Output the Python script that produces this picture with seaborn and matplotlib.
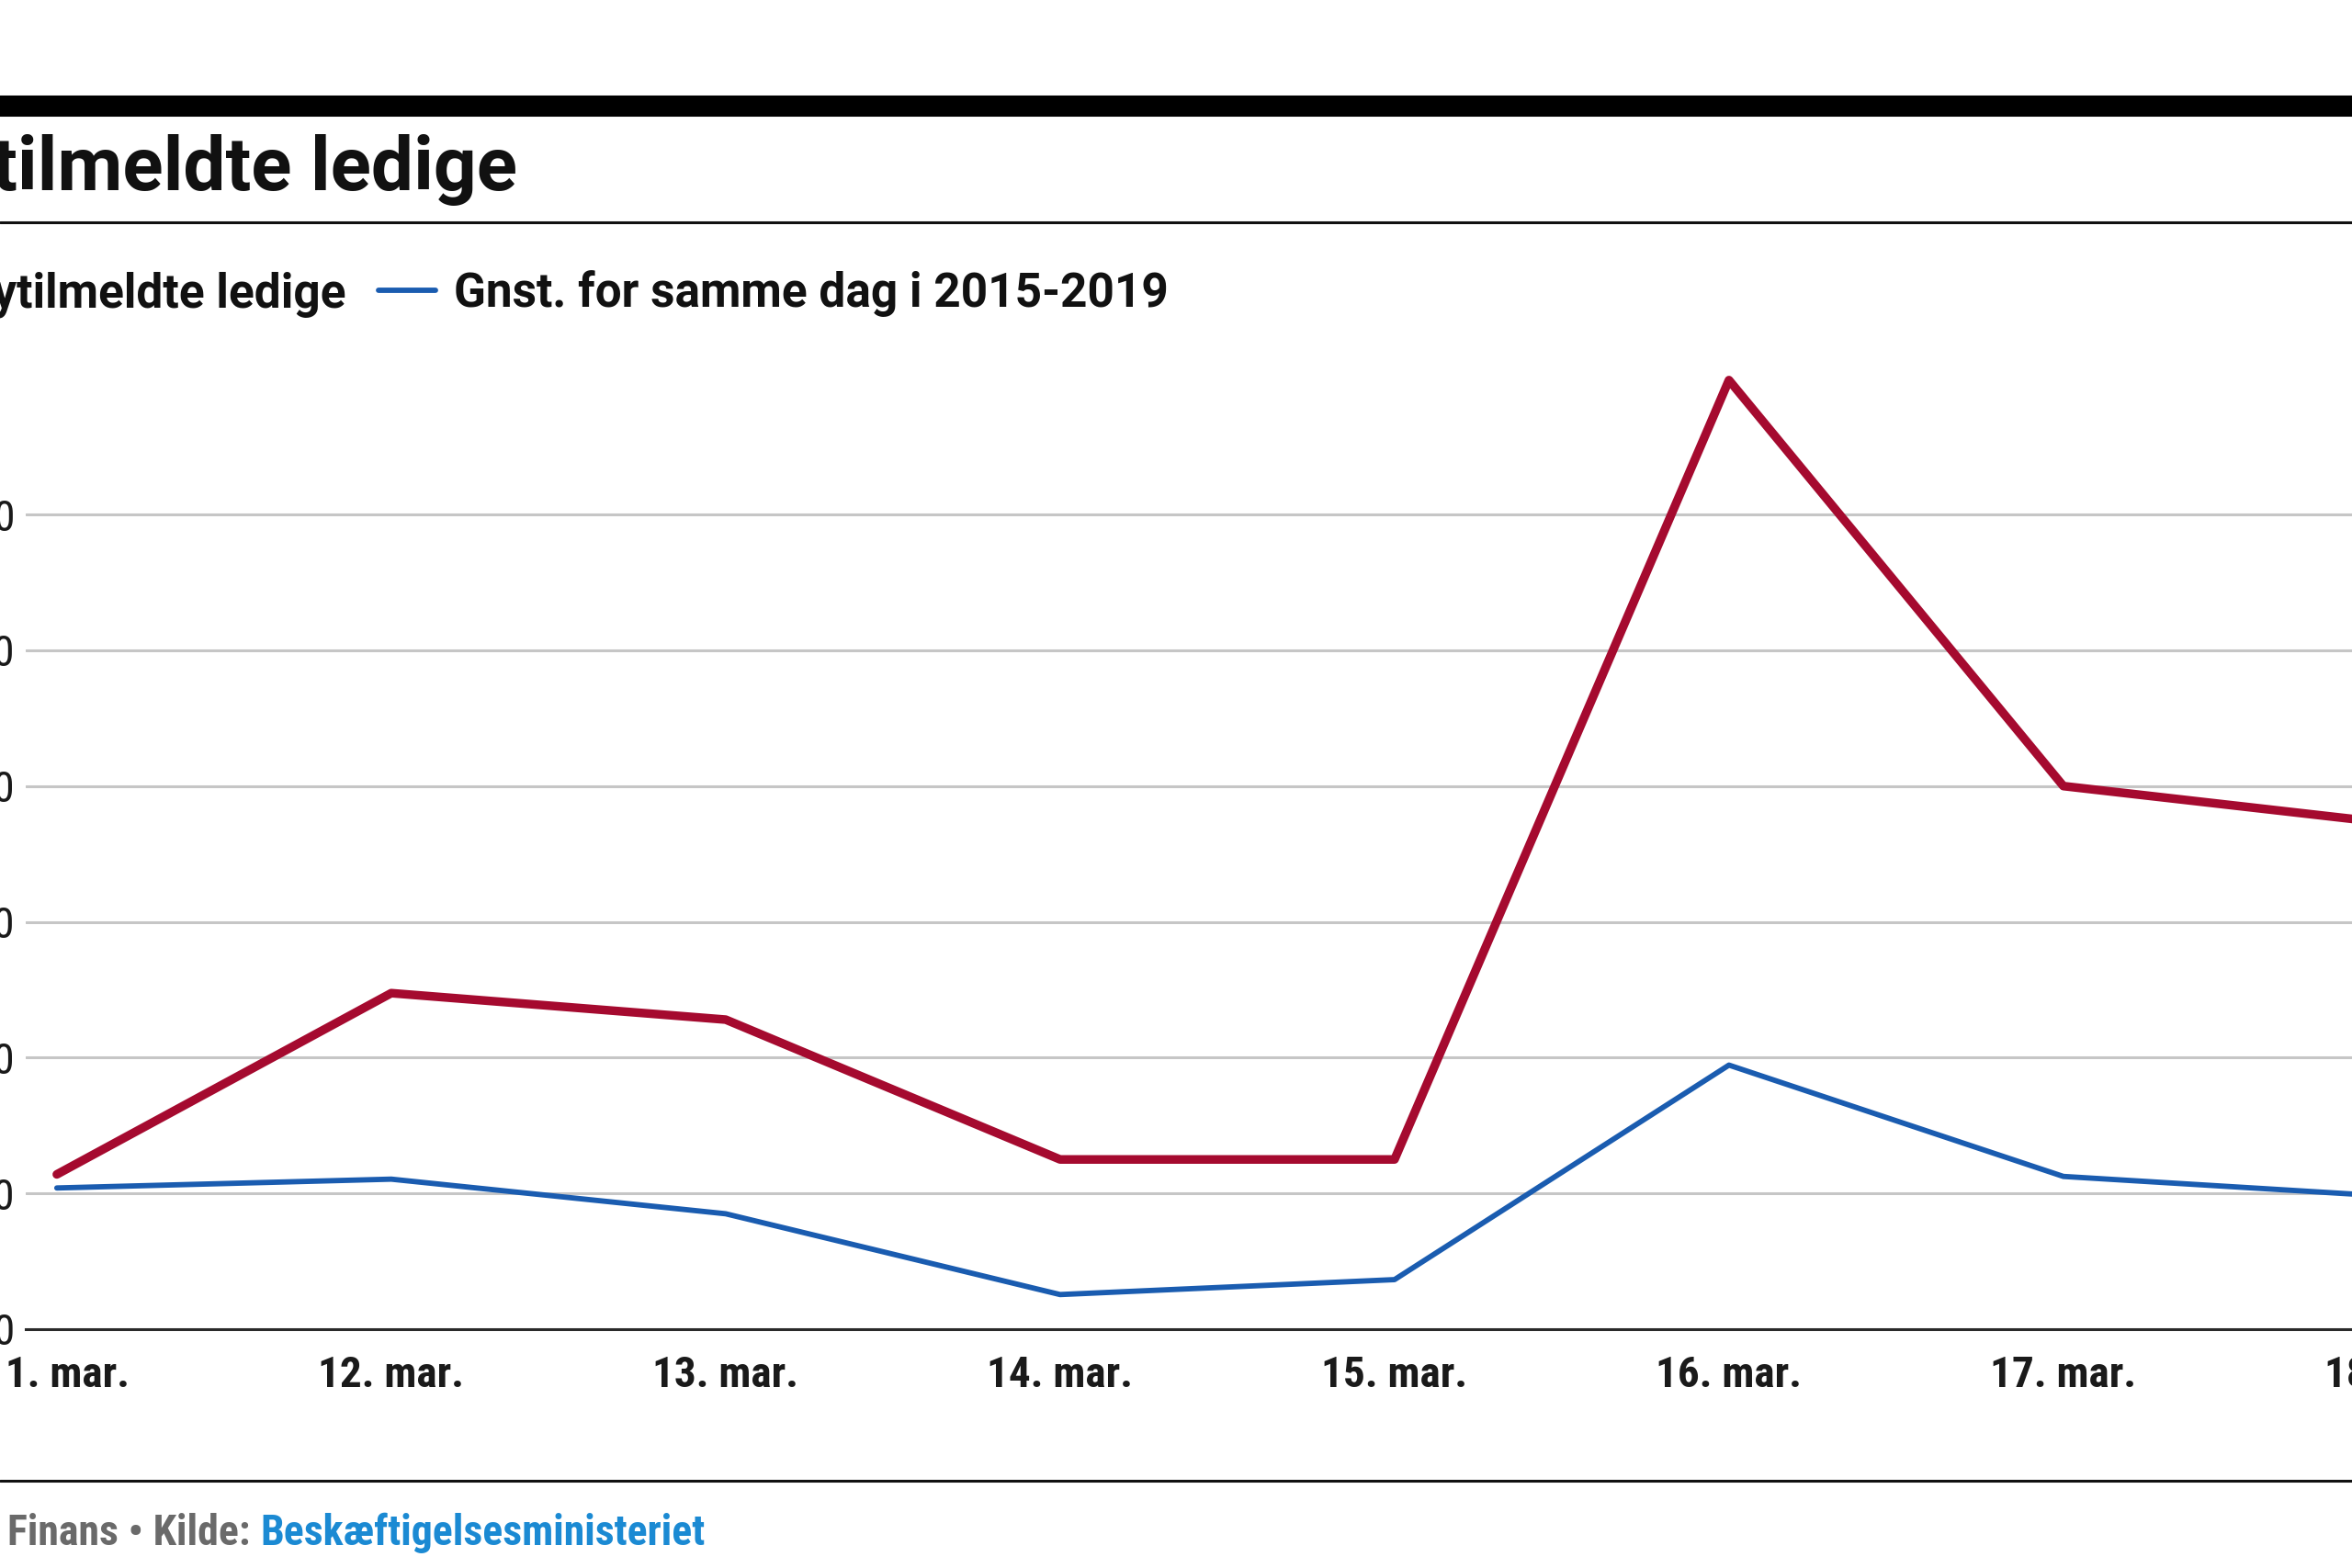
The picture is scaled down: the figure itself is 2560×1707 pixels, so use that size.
import numpy as np
import pandas as pd
import matplotlib
matplotlib.use("Agg")
import matplotlib.pyplot as plt
import seaborn as sns
from matplotlib import font_manager as fm
from matplotlib.lines import Line2D

# ---------------- data ----------------
dates = ["11. mar.", "12. mar.", "13. mar.", "14. mar.", "15. mar.",
         "16. mar.", "17. mar.", "18. mar."]
nytilmeldte = [1140, 2475, 2280, 1250, 1250, 6990, 4000, 3720]
gennemsnit = [1040, 1105, 850, 255, 365, 1945, 1125, 975]
series_names = ["Nytilmeldte ledige", "Gnst. for samme dag i 2015-2019"]
y_ticks = [0, 1000, 2000, 3000, 4000, 5000, 6000]
title = "Nytilmeldte ledige"
source_prefix = "Finans \u2022 Kilde: "
source_name = "Beskæftigelsesministeriet"

# ---------------- style ----------------
sns.set_theme(style="white")
available = {f.name for f in fm.fontManager.ttflist}


def pick(cands):
    for c in cands:
        if c in available:
            return c
    return "DejaVu Sans"


FONT = pick(["Roboto Condensed", "Liberation Sans Narrow", "DejaVu Sans Condensed",
             "Roboto", "DejaVu Sans"])
FONT_WIDE = pick(["Roboto", "Open Sans", "DejaVu Sans"])
plt.rcParams["font.family"] = [FONT, "DejaVu Sans"]

RED = "#a50a2f"
BLUE = "#1a5cb0"
W, H = 2560, 1707

df = pd.DataFrame({
    "dato": dates * 2,
    "antal": nytilmeldte + gennemsnit,
    "serie": [series_names[0]] * len(dates) + [series_names[1]] * len(dates),
})
df["pos"] = list(range(len(dates))) * 2

fig = plt.figure(figsize=(W / 200, H / 200), dpi=200)
fig.patch.set_facecolor("white")

# axes geometry (extends beyond right edge like the cropped reference)
left_px, bottom_px, top_px = 28, 1447, 368
x_lo, x_hi = -0.093, 7.6
unit_px = 364
ax = fig.add_axes([left_px / W, 1 - bottom_px / H,
                   (x_hi - x_lo) * unit_px / W, (bottom_px - top_px) / H])

sns.lineplot(data=df[df["serie"] == series_names[0]], x="pos", y="antal",
             color=RED, linewidth=3.4, ax=ax, label=series_names[0])
sns.lineplot(data=df[df["serie"] == series_names[1]], x="pos", y="antal",
             color=BLUE, linewidth=2.1, ax=ax, label=series_names[1])

ax.set_xlim(x_lo, x_hi)
ax.set_ylim(0, 7300)
ax.set_yticks(y_ticks)
ax.set_yticklabels([f"{v:,}".replace(",", ".") for v in y_ticks])
ax.set_xticks(range(len(dates)))
ax.set_xticklabels(dates)
ax.set_xlabel("")
ax.set_ylabel("")
ax.set_axisbelow(True)
ax.yaxis.grid(True, color="#c6c6c6", linewidth=1.1)
ax.xaxis.grid(False)
for s in ["top", "left", "right"]:
    ax.spines[s].set_visible(False)
ax.spines["bottom"].set_color("#2a2a2a")
ax.spines["bottom"].set_linewidth(1.1)
ax.tick_params(axis="x", length=0, pad=10, labelsize=17, colors="#1a1a1a")
ax.tick_params(axis="y", length=0, pad=4.3, labelsize=17, colors="#1a1a1a")
for lab in ax.get_xticklabels():
    lab.set_fontweight("bold")

# legend
handles, labels = ax.get_legend_handles_labels()
if ax.get_legend() is not None:
    ax.get_legend().remove()
fig.legend(handles, labels, loc="center right",
           bbox_to_anchor=(1272 / W, 1 - 320 / H), ncol=2, frameon=False,
           prop={"size": 18.5, "weight": "bold", "family": [FONT_WIDE, "DejaVu Sans"]},
           handlelength=1.2, handletextpad=0.4, columnspacing=0.7,
           borderpad=0, borderaxespad=0, labelcolor="#111111")

# title and rules
fig.text(563 / W, 1 - 207 / H, title, ha="right", va="baseline",
         fontsize=29.5, fontweight="bold", color="#111111",
         family=[FONT_WIDE, "DejaVu Sans"])
fig.add_artist(Line2D([0, 1], [1 - 114.5 / H] * 2, transform=fig.transFigure,
                      color="black", linewidth=8.3))
fig.add_artist(Line2D([0, 1], [1 - 242 / H] * 2, transform=fig.transFigure,
                      color="#111111", linewidth=1.1))
fig.add_artist(Line2D([0, 1], [1 - 1612 / H] * 2, transform=fig.transFigure,
                      color="#111111", linewidth=1.1))

# footer
t1 = fig.text(8 / W, 1 - 1682 / H, source_prefix, ha="left", va="baseline",
              fontsize=16.5, fontweight="bold", color="#6a6a6a")
ax.annotate(source_name, xy=(1, 0), xycoords=t1, ha="left", va="bottom",
            fontsize=16.5, fontweight="bold", color="#1b8ad3",
            annotation_clip=False)

fig.savefig("out.png", dpi=200, facecolor="white")
